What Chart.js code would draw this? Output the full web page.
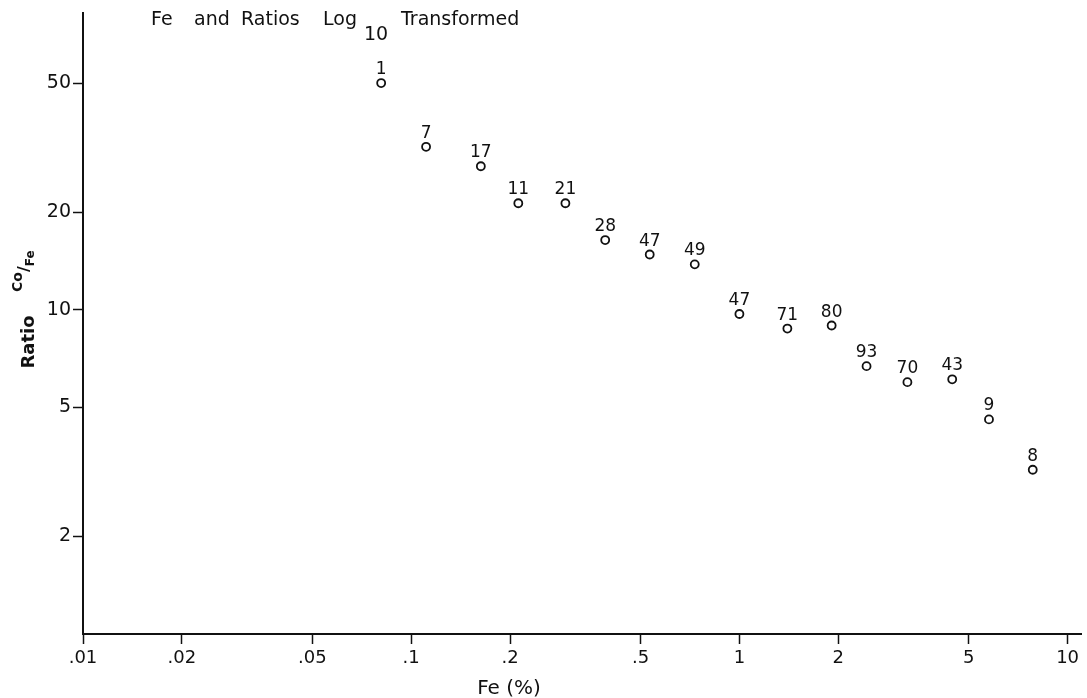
<!DOCTYPE html>
<html>
<head>
<meta charset="utf-8">
<title>Fe and Ratios Log10 Transformed</title>
<script src="https://cdn.jsdelivr.net/npm/chart.js@4.4.1/dist/chart.umd.min.js"></script>
<style>
  html, body { margin: 0; padding: 0; background: #fff; }
  #wrap { position: relative; width: 1087px; height: 698px; }
</style>
</head>
<body>
<div id="wrap"><canvas id="chart"></canvas></div>
<script>
// Fe (%) for each sample group
const fePct = [0.081, 0.111, 0.163, 0.212, 0.295, 0.39, 0.533, 0.731, 1.0, 1.40, 1.91, 2.44, 3.25, 4.45, 5.76, 7.83];
// Co/Fe ratio
const ratio = [50, 31.8, 27.7, 21.3, 21.3, 16.4, 14.8, 13.8, 9.7, 8.75, 8.94, 6.7, 5.98, 6.1, 4.59, 3.21];
// number of samples in each group (printed above the point)
const counts = ['1', '7', '17', '11', '21', '28', '47', '49', '47', '71', '80', '93', '70', '43', '9', '8'];

const xTicks = [0.01, 0.02, 0.05, 0.1, 0.2, 0.5, 1, 2, 5, 10];
const xTickLabels = ['.01', '.02', '.05', '.1', '.2', '.5', '1', '2', '5', '10'];
const yTicks = [2, 5, 10, 20, 50];
const yTickLabels = ['2', '5', '10', '20', '50'];

const FONT = '"DejaVu Sans", "Liberation Sans", sans-serif';

const points = fePct.map((x, i) => ({ x: x, y: ratio[i] }));

// counts written above each circle
const countLabels = {
    id: 'countLabels',
    afterDatasetsDraw(chart) {
        const ctx = chart.ctx;
        const meta = chart.getDatasetMeta(0);
        ctx.save();
        ctx.fillStyle = '#111';
        ctx.font = '17px ' + FONT;
        ctx.textAlign = 'center';
        ctx.textBaseline = 'alphabetic';
        meta.data.forEach((pt, i) => {
            ctx.fillText(counts[i], pt.x, pt.y - 9);
        });
        ctx.restore();
    }
};

// heading and axis titles (with sub/superscripts)
const titles = {
    id: 'titles',
    afterDraw(chart) {
        const ctx = chart.ctx;
        ctx.save();
        ctx.fillStyle = '#111';
        ctx.textBaseline = 'alphabetic';
        ctx.textAlign = 'left';

        // heading, word by word
        ctx.font = '19px ' + FONT;
        ctx.fillText('Fe', 151, 25);
        ctx.fillText('and', 194, 25);
        ctx.fillText('Ratios', 241, 25);
        ctx.fillText('Log', 323, 25);
        ctx.fillText('10', 364, 40);
        ctx.fillText('Transformed', 401, 25);

        // x axis title
        ctx.font = '20px ' + FONT;
        ctx.textAlign = 'center';
        ctx.fillText('Fe (%)', 509, 694);

        // y axis title, rotated
        ctx.translate(34, 342);
        ctx.rotate(-Math.PI / 2);
        ctx.textAlign = 'center';
        ctx.font = 'bold 18px ' + FONT;
        ctx.fillText('Ratio', 0, 0);
        ctx.textAlign = 'left';
        ctx.font = 'bold 14px ' + FONT;
        ctx.fillText('Co', 50, -12);
        let cw = ctx.measureText('Co').width;
        ctx.font = 'bold 16px ' + FONT;
        ctx.fillText('/', 50 + cw, -5);
        let sw = ctx.measureText('/').width;
        ctx.font = 'bold 12px ' + FONT;
        ctx.fillText('Fe', 50 + cw + sw, 0);
        ctx.restore();
    }
};

new Chart(document.getElementById('chart'), {
    type: 'scatter',
    data: {
        datasets: [{
            data: points,
            pointRadius: 4,
            pointHoverRadius: 4,
            pointBorderWidth: 1.8,
            pointBorderColor: '#111',
            pointBackgroundColor: 'rgba(255,255,255,0)',
            showLine: false
        }]
    },
    options: {
        responsive: true,
        maintainAspectRatio: false,
        animation: false,
        events: [],
        layout: { padding: { top: 8, right: 2, left: 0, bottom: 0 } },
        plugins: {
            legend: { display: false },
            tooltip: { enabled: false }
        },
        scales: {
            x: {
                type: 'logarithmic',
                min: 0.01,
                max: 11,
                afterBuildTicks(axis) {
                    axis.ticks = xTicks.map(v => ({ value: v }));
                },
                afterFit(axis) { axis.height = 64; },
                ticks: {
                    autoSkip: false,
                    maxRotation: 0,
                    color: '#111',
                    padding: 4,
                    font: { family: FONT, size: 18 },
                    callback: (v) => {
                        const i = xTicks.indexOf(v);
                        return i >= 0 ? xTickLabels[i] : '';
                    }
                },
                grid: {
                    drawOnChartArea: false,
                    drawTicks: true,
                    tickLength: 10,
                    tickWidth: 1.5,
                    color: '#111'
                },
                border: { display: true, color: '#111', width: 2 }
            },
            y: {
                type: 'logarithmic',
                min: 1,
                max: 82,
                afterBuildTicks(axis) {
                    axis.ticks = yTicks.map(v => ({ value: v }));
                },
                afterFit(axis) { axis.width = 83; },
                ticks: {
                    autoSkip: false,
                    color: '#111',
                    padding: 2,
                    font: { family: FONT, size: 19 },
                    callback: (v) => {
                        const i = yTicks.indexOf(v);
                        return i >= 0 ? yTickLabels[i] : '';
                    }
                },
                grid: {
                    drawOnChartArea: false,
                    drawTicks: true,
                    tickLength: 10,
                    tickWidth: 1.5,
                    color: '#111'
                },
                border: { display: true, color: '#111', width: 2 }
            }
        }
    },
    plugins: [countLabels, titles]
});
</script>
</body>
</html>
